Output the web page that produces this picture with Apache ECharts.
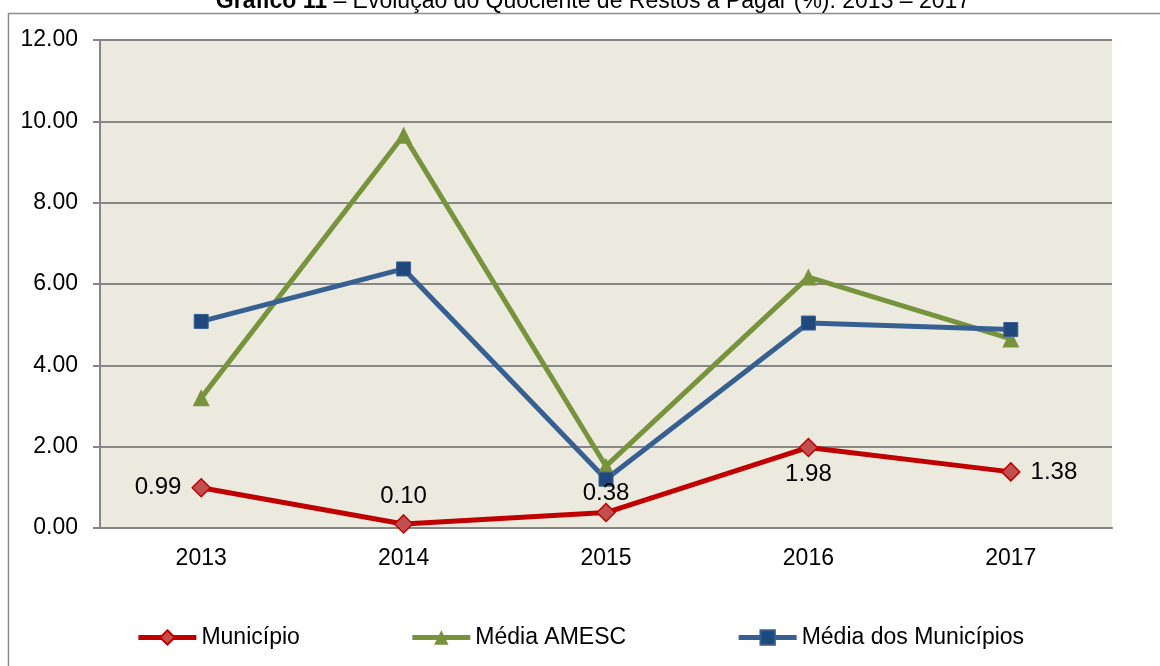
<!DOCTYPE html>
<html>
<head>
<meta charset="utf-8">
<script src="https://cdn.jsdelivr.net/npm/echarts@6/dist/echarts.min.js"></script>
<style>
  html, body { margin: 0; padding: 0; background: #fff; }
  #chart { width: 1160px; height: 666px; }
</style>
</head>
<body>
<div id="chart"></div>
<script>
var years = ['2013', '2014', '2015', '2016', '2017'];
var municipio = [0.99, 0.10, 0.38, 1.98, 1.38];
var mediaAmesc = [3.20, 9.66, 1.52, 6.17, 4.65];
var mediaMunicipios = [5.08, 6.37, 1.20, 5.04, 4.88];

(function () {
  var font = '"Liberation Sans", Arial, sans-serif';
  var chart = echarts.init(document.getElementById('chart'), null, { renderer: 'canvas' });

  // label placement for the Município values, as in the original
  var labelPlace = [
    { position: 'left', distance: 10 },
    { position: 'top', distance: 6 },
    { position: 'top', distance: -3 },
    { position: 'bottom', distance: 5 },
    { position: 'right', distance: 10 }
  ];

  var municipioData = municipio.map(function (v, i) {
    return { value: v, label: labelPlace[i] };
  });

  chart.setOption({
    animation: false,
    textStyle: { fontFamily: font },
    graphic: [
      {
        type: 'rect',
        shape: { x: 8.5, y: 13.5, width: 1300, height: 800 },
        style: { fill: 'none', stroke: '#8c8c8c', lineWidth: 1.5 },
        silent: true
      },
      {
        type: 'text',
        x: 593,
        y: 13,
        style: {
          text: '{b|Gráfico 11} – Evolução do Quociente de Restos a Pagar (%): 2013 – 2017',
          align: 'center',
          verticalAlign: 'bottom',
          fill: '#000',
          font: '23px ' + font,
          rich: {
            b: { fontWeight: 'bold', fontSize: 23, fontFamily: font, fill: '#000' }
          }
        }
      }
    ],
    grid: {
      left: 100, right: 48, top: 40, bottom: 138,
      show: true, backgroundColor: '#ECEADF', borderWidth: 0
    },
    legend: {
      bottom: 12,
      left: 'center',
      itemGap: 110,
      itemWidth: 58,
      itemHeight: 18,
      lineStyle: { width: 5 },
      textStyle: { fontSize: 23, color: '#000', fontFamily: font },
      data: ['Município', 'Média AMESC', 'Média dos Municípios']
    },
    xAxis: {
      type: 'category',
      data: years,
      axisLine: { lineStyle: { color: '#868686', width: 2 } },
      axisTick: { show: false },
      axisLabel: { color: '#000', fontSize: 23, margin: 19 }
    },
    yAxis: {
      type: 'value',
      min: 0,
      max: 12,
      interval: 2,
      axisLine: { show: true, lineStyle: { color: '#868686', width: 2 } },
      axisTick: { show: true, inside: false, length: 7, lineStyle: { color: '#868686', width: 2 } },
      splitLine: { lineStyle: { color: '#868686', width: 2 } },
      axisLabel: {
        color: '#000', fontSize: 23, margin: 22,
        formatter: function (v) { return v.toFixed(2); }
      }
    },
    series: [
      {
        name: 'Município',
        type: 'line',
        data: municipioData,
        symbol: 'diamond',
        symbolSize: 18,
        z: 3,
        lineStyle: { color: '#C00000', width: 5 },
        itemStyle: { color: '#C0504D', borderColor: '#C00000', borderWidth: 1.5 },
        label: {
          show: true,
          fontSize: 24,
          color: '#000',
          formatter: function (p) { return p.value.toFixed(2); }
        }
      },
      {
        name: 'Média AMESC',
        type: 'line',
        data: mediaAmesc,
        symbol: 'triangle',
        symbolSize: 17,
        z: 2,
        lineStyle: { color: '#77933C', width: 5 },
        itemStyle: { color: '#77933C', borderWidth: 0 }
      },
      {
        name: 'Média dos Municípios',
        type: 'line',
        data: mediaMunicipios,
        symbol: 'rect',
        symbolSize: 14,
        z: 2,
        lineStyle: { color: '#376092', width: 5 },
        itemStyle: { color: '#1F497D', borderColor: '#376092', borderWidth: 1 }
      }
    ]
  });
  window.addEventListener('resize', function () { chart.resize(); });
})();
</script>
</body>
</html>
